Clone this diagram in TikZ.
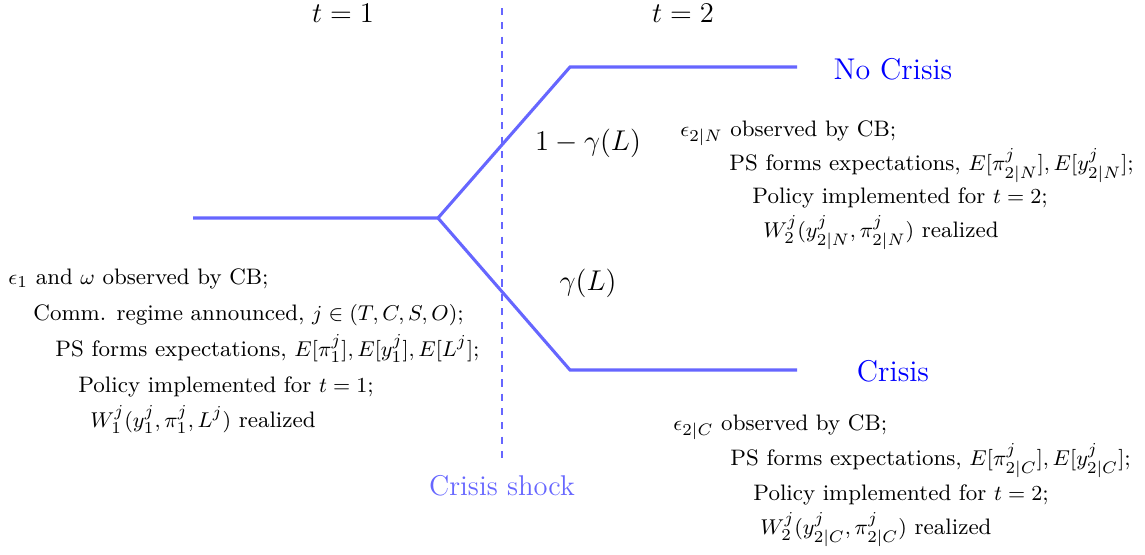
\documentclass[tikz,border=0pt]{standalone}
\usepackage{amsmath}
\usetikzlibrary{positioning}

\begin{document}
\begin{tikzpicture}[
    x=0.42pt, y=-0.42pt,
    branch/.style={line width=1.3pt, blue!60},
    shockline/.style={dashed, blue!60, line width=0.5pt},
    infoline/.style={anchor=base west, inner sep=0pt, font=\fontsize{9.4}{11.3}\selectfont},
    problabel/.style={font=\large},
    statelabel/.style={font=\fontsize{12.6}{15}\selectfont, text=blue},
    periodlabel/.style={font=\large}
]
\useasboundingbox (0,0) rectangle (1145,554);

% tree
\coordinate (start) at (193,218);
\coordinate (fork) at (438,218);
\coordinate (upkink) at (570,67);
\coordinate (upend) at (797,67);
\coordinate (lowkink) at (570,370);
\coordinate (lowend) at (797,370);
\draw[branch] (start) -- (fork) -- (upkink) -- (upend);
\draw[branch] (fork) -- (lowkink) -- (lowend);

% crisis shock
\coordinate (shocktop) at (502,8);
\node[font=\large, text=blue!60] (shock) at (502,486) {Crisis shock};
\draw[shockline] (shocktop) -- ([yshift=4pt]shock.north);

\node[periodlabel] (per1) at (343,13) {$t=1$};
\node[periodlabel] (per2) at (683,13) {$t=2$};

\node[problabel] (pnocrisis) at (588,143) {$1-\gamma(L)$};
\node[problabel] (pcrisis) at (588,283) {$\gamma(L)$};

\node[statelabel] (nocrisis) at (893,69) {No Crisis};
\node[statelabel] (crisis) at (893,371) {Crisis};

% period 1
\node[infoline] (a1) at (8,284) {$\epsilon_1$ and $\omega$ observed by CB;};
\node[infoline] (a2) at (33,320) {Comm. regime announced, $j \in (T,C,S,O)$;};
\node[infoline] (a3) at (55,356) {PS forms expectations, $E[\pi_1^j], E[y_1^j], E[L^j]$;};
\node[infoline] (a4) at (78,392) {Policy implemented for $t=1$;};
\node[infoline] (a5) at (90,427) {$W_1^j(y_1^j,\pi_1^j,L^j)$ realized};

% period 2, no crisis
\node[infoline] (n1) at (680,136) {$\epsilon_{2|N}$ observed by CB;};
\node[infoline] (n2) at (729,170) {PS forms expectations, $E[\pi_{2|N}^j], E[y_{2|N}^j]$;};
\node[infoline] (n3) at (752,203) {Policy implemented for $t=2$;};
\node[infoline] (n4) at (763,237) {$W_2^j(y_{2|N}^j,\pi_{2|N}^j)$ realized};

% period 2, crisis
\node[infoline] (c1) at (673,430) {$\epsilon_{2|C}$ observed by CB;};
\node[infoline] (c2) at (730,465) {PS forms expectations, $E[\pi_{2|C}^j], E[y_{2|C}^j]$;};
\node[infoline] (c3) at (753,500) {Policy implemented for $t=2$;};
\node[infoline] (c4) at (760,534) {$W_2^j(y_{2|C}^j,\pi_{2|C}^j)$ realized};
\end{tikzpicture}
\end{document}
